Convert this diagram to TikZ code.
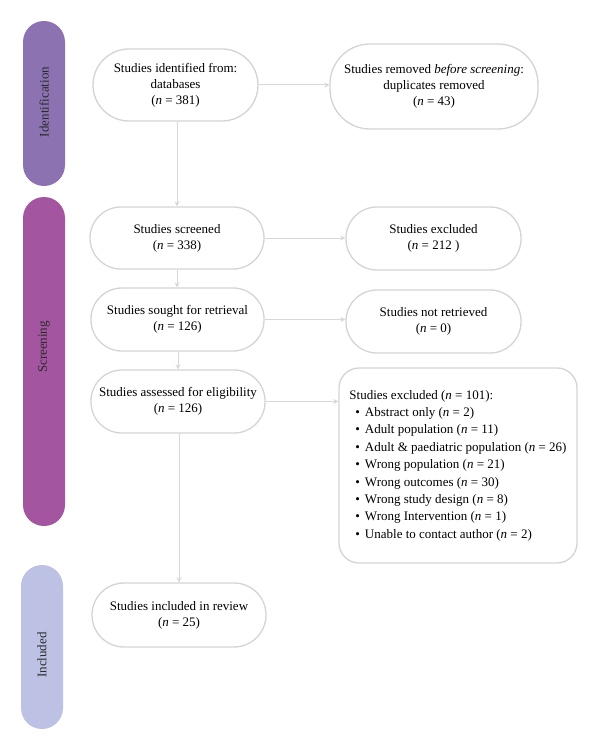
\documentclass[tikz,border=0pt]{standalone}
\usepackage{fontspec}
\setmainfont{Liberation Serif}
\usetikzlibrary{arrows.meta}
\definecolor{idcol}{HTML}{8C72B0}
\definecolor{scrcol}{HTML}{A3559F}
\definecolor{inccol}{HTML}{BDC1E4}
\definecolor{boxline}{HTML}{D4D4D4}
\definecolor{arrline}{HTML}{D8D8D8}
\definecolor{sidetxt}{HTML}{2A2A2A}
\begin{document}
\begin{tikzpicture}[x=1pt,y=1pt,
  flowbox/.style={draw=boxline, line width=1.3pt, fill=white, align=center, inner sep=2pt,
    font=\fontsize{13}{16}\selectfont},
  sidebar/.style={rotate=90, inner sep=0pt, minimum height=42pt, rounded corners=21pt, draw=none},
  sidetext/.style={rotate=90, text=sidetxt, font=\fontsize{13}{16}\selectfont, inner sep=0pt},
  arr/.style={draw=arrline, line width=1pt, -{Stealth[length=5pt,width=5pt]}}]
\useasboundingbox (0,0) rectangle (600,-751);
\fill[white] (0,0) rectangle (600,-751);

% side bars
\node[sidebar, fill=idcol, minimum width=165pt] (sbid) at (44,-103.5) {};
\node[sidetext] (tid) at (44,-102) {Identification};
\node[sidebar, fill=scrcol, minimum width=329pt] (sbscr) at (44,-361.5) {};
\node[sidetext] (tscr) at (44,-347) {Screening};
\node[sidebar, fill=inccol, minimum width=164pt] (sbinc) at (42,-647) {};
\node[sidetext] (tinc) at (42,-655) {Included};

% boxes
\node[flowbox, minimum width=165pt, minimum height=72pt, rounded corners=36pt] (id) at (175.5,-85)
  {Studies identified from:\\databases\\(\textit{n} = 381)};
\node[flowbox, minimum width=208pt, minimum height=85pt, rounded corners=40pt] (rem) at (434,-86.5)
  {Studies removed \textit{before screening}:\\duplicates removed\\(\textit{n} = 43)};
\node[flowbox, minimum width=174pt, minimum height=62pt, rounded corners=31pt] (scr) at (177,-238)
  {Studies screened\\(\textit{n} = 338)};
\node[flowbox, minimum width=175pt, minimum height=63pt, rounded corners=31pt] (exc) at (433.5,-238.5)
  {Studies excluded\\(\textit{n} = 212 )};
\node[flowbox, minimum width=173pt, minimum height=63pt, rounded corners=31pt] (sou) at (177.5,-319.5)
  {Studies sought for retrieval\\(\textit{n} = 126)};
\node[flowbox, minimum width=175pt, minimum height=63pt, rounded corners=31pt] (ret) at (433.5,-321.5)
  {Studies not retrieved\\(\textit{n} = 0)};
\node[flowbox, minimum width=174pt, minimum height=63pt, rounded corners=31pt] (ass) at (178,-401.5)
  {Studies assessed for eligibility\\(\textit{n} = 126)};
\node[flowbox, minimum width=238pt, minimum height=195pt, rounded corners=20pt, align=left,
  font=\fontsize{13}{17.4}\selectfont] (lst) at (458,-465.5)
  {Studies excluded (\textit{n} = 101):\\
   \hspace*{6pt}\textbullet\hspace{5pt}Abstract only (\textit{n} = 2)\\
   \hspace*{6pt}\textbullet\hspace{5pt}Adult population (\textit{n} = 11)\\
   \hspace*{6pt}\textbullet\hspace{5pt}Adult \& paediatric population (\textit{n} = 26)\\
   \hspace*{6pt}\textbullet\hspace{5pt}Wrong population (\textit{n} = 21)\\
   \hspace*{6pt}\textbullet\hspace{5pt}Wrong outcomes (\textit{n} = 30)\\
   \hspace*{6pt}\textbullet\hspace{5pt}Wrong study design (\textit{n} = 8)\\
   \hspace*{6pt}\textbullet\hspace{5pt}Wrong Intervention (\textit{n} = 1)\\
   \hspace*{6pt}\textbullet\hspace{5pt}Unable to contact author (\textit{n} = 2)};
\node[flowbox, minimum width=174pt, minimum height=64pt, rounded corners=32pt] (inc) at (179,-615)
  {Studies included in review\\(\textit{n} = 25)};

% connectors
\draw[arr] (id.south -| scr.north) -- (scr.north);
\draw[arr] (id.east) -- (id.east -| rem.west);
\draw[arr] (scr.east) -- (scr.east -| exc.west);
\draw[arr] (scr.south) -- (scr.south |- sou.north);
\draw[arr] (sou.east) -- (sou.east -| ret.west);
\draw[arr] (sou.south -| ass.north) -- (ass.north);
\draw[arr] (ass.east) -- (ass.east -| lst.west);
\draw[arr] (ass.south -| inc.north) -- (inc.north);
\end{tikzpicture}
\end{document}
